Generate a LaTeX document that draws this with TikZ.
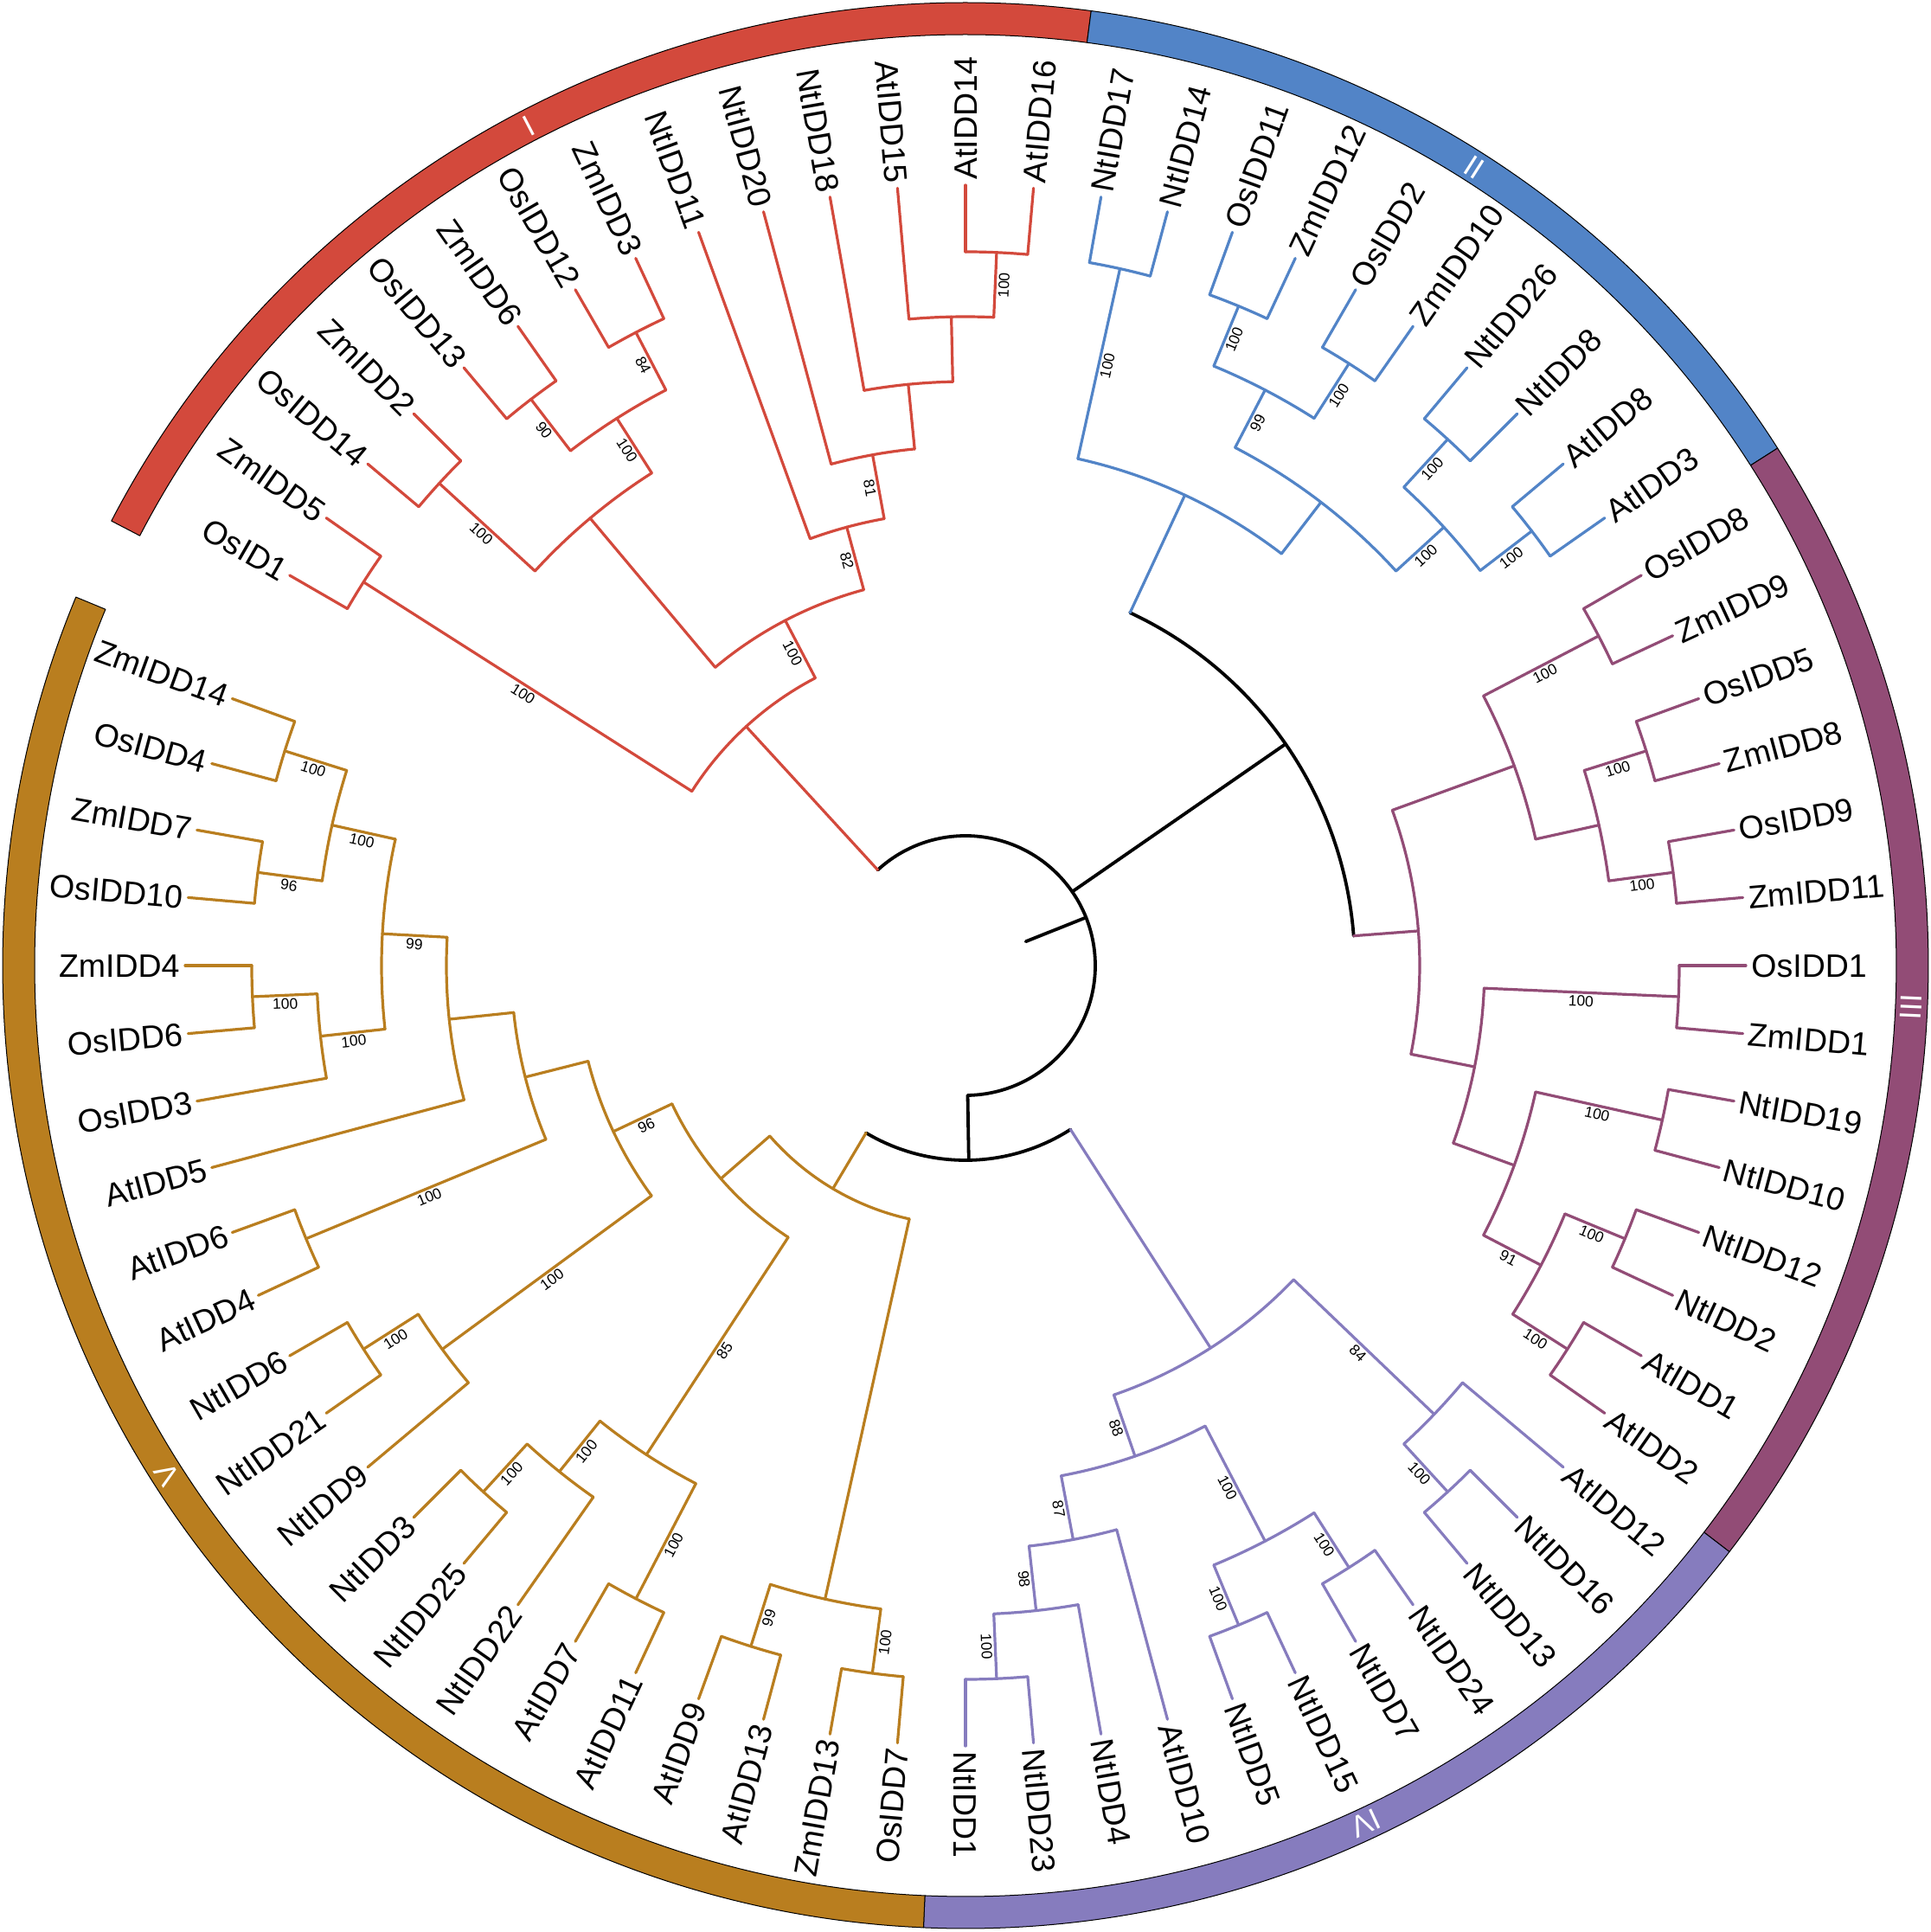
\documentclass[tikz,border=0pt]{standalone}
\usepackage{fontspec}
\setmainfont{Liberation Sans}
\definecolor{cIc}{RGB}{211,73,60}
\definecolor{cIIc}{RGB}{82,132,199}
\definecolor{cIIIc}{RGB}{146,76,118}
\definecolor{cIVc}{RGB}{134,124,190}
\definecolor{cVc}{RGB}{185,126,31}
\tikzset{
  cI/.style={draw=cIc, line width=1.6pt},
  cII/.style={draw=cIIc, line width=1.6pt},
  cIII/.style={draw=cIIIc, line width=1.6pt},
  cIV/.style={draw=cIVc, line width=1.6pt},
  cV/.style={draw=cVc, line width=1.6pt},
  blk/.style={draw=black, line width=1.9pt},
  leaflab/.style={font=\fontsize{18.75}{20}\selectfont, inner sep=0pt, text height=13.4pt, text depth=0pt},
  bslab/.style={font=\fontsize{8.7}{9}\selectfont, inner sep=1.5pt, text height=6.3pt, text depth=0pt},
  ringlab/.style={font=\fontsize{17.5}{18}\selectfont, text=white, inner sep=0pt, text height=12.5pt, text depth=0pt},
  ringseg/.style={draw=black, line width=0.5pt}
}
\newcounter{bsn}
\newcommand\tbs[4]{%
  \stepcounter{bsn}%
  \pgfmathsetmacro\tmpm{(#3+#4)/2}%
  \pgfmathsetmacro\tmpc{cos(#2)}%
  \ifdim\tmpc pt<-0.001pt \pgfmathsetmacro\tmpr{#2-180}\else\pgfmathsetmacro\tmpr{#2}\fi
  \node[bslab, rotate=\tmpr, anchor=north] (bs\arabic{bsn}) at (#2:\tmpm pt) {#1};}
\newcommand\tint[7]{%
  \draw[#1] (#3:#2pt) arc[start angle=#3, end angle=#4, radius=#2pt];
  \draw[#1] (#5:#6pt) -- (#5:#2pt);
  \def\tmparg{#7}\ifx\tmparg\empty\else\tbs{#7}{#5}{#6}{#2}\fi}
\newcommand\tleaf[4]{%
  \draw[#1] (#3:#4pt) -- (#3:451pt);
  \pgfmathsetmacro\tmpc{cos(#3)}%
  \ifdim\tmpc pt<-0.001pt
    \pgfmathsetmacro\tmpr{#3-180}%
    \node[leaflab, anchor=east, rotate=\tmpr] (#2) at (#3:454pt) {#2};
  \else
    \node[leaflab, anchor=west, rotate=#3] (#2) at (#3:454pt) {#2};
  \fi}
\newcommand\tring[5]{%
  \filldraw[ringseg, fill=#1] (#2:538pt) arc[start angle=#2, end angle=#3, radius=538pt]
    -- (#3:556.5pt) arc[start angle=#3, end angle=#2, radius=556.5pt] -- cycle;
  \pgfmathsetmacro\tmpa{(#2+#3)/2}%
  \pgfmathsetmacro\tmpr{\tmpa-90}%
  \node[ringlab, rotate=\tmpr] (ring#5) at (\tmpa:547.25pt) {#4};}
\begin{document}
\begin{tikzpicture}[line cap=round, line join=round]
\useasboundingbox (-558pt,-558.5pt) rectangle (558pt,558pt);
% ring
\tring{cIc}{82.5}{152.5}{I}{1}
\tring{cIIc}{32.5}{82.5}{II}{2}
\tring{cIIIc}{-37.5}{32.5}{III}{3}
\tring{cIVc}{-92.5}{-37.5}{IV}{4}
\tring{cVc}{-202.5}{-92.5}{V}{5}
% root
\draw[blk] (132.5390625:75pt) arc[start angle=132.5390625, end angle=-89.033203125, radius=75pt];
\draw[blk] (21.7529296875:37.5pt) -- (21.7529296875:75pt);
\tint{blk}{225}{65}{4.375}{34.6875}{75}{}
\tint{blk}{112.5}{-57.34375}{-120.72265625}{-89.033203125}{75}{}
% clade I
\tint{cI}{412.5}{90}{85}{87.5}{375}{100}
\tint{cI}{375}{95}{87.5}{91.25}{337.5}{}
\tint{cI}{337.5}{100}{91.25}{95.625}{300}{}
\tint{cI}{300}{105}{95.625}{100.3125}{262.5}{81}
\tint{cI}{262.5}{110}{100.3125}{105.15625}{225}{82}
\tint{cI}{412.5}{120}{115}{117.5}{375}{84}
\tint{cI}{412.5}{130}{125}{127.5}{375}{90}
\tint{cI}{375}{127.5}{117.5}{122.5}{337.5}{100}
\tint{cI}{412.5}{140}{135}{137.5}{337.5}{100}
\tint{cI}{337.5}{137.5}{122.5}{130}{225}{}
\tint{cI}{225}{130}{105.15625}{117.578125}{187.5}{100}
\tint{cI}{412.5}{150}{145}{147.5}{187.5}{100}
\tint{cI}{187.5}{147.5}{117.578125}{132.5390625}{75}{}
\tleaf{cI}{AtIDD14}{90}{412.5}
\tleaf{cI}{AtIDD16}{85}{412.5}
\tleaf{cI}{AtIDD15}{95}{375}
\tleaf{cI}{NtIDD18}{100}{337.5}
\tleaf{cI}{NtIDD20}{105}{300}
\tleaf{cI}{NtIDD11}{110}{262.5}
\tleaf{cI}{ZmIDD3}{115}{412.5}
\tleaf{cI}{OsIDD12}{120}{412.5}
\tleaf{cI}{ZmIDD6}{125}{412.5}
\tleaf{cI}{OsIDD13}{130}{412.5}
\tleaf{cI}{ZmIDD2}{135}{412.5}
\tleaf{cI}{OsIDD14}{140}{412.5}
\tleaf{cI}{ZmIDD5}{145}{412.5}
\tleaf{cI}{OsID1}{150}{412.5}
% clade II
\tint{cII}{412.5}{80}{75}{77.5}{300}{100}
\tint{cII}{412.5}{70}{65}{67.5}{375}{100}
\tint{cII}{412.5}{60}{55}{57.5}{375}{100}
\tint{cII}{375}{67.5}{57.5}{62.5}{337.5}{99}
\tint{cII}{412.5}{50}{45}{47.5}{375}{100}
\tint{cII}{412.5}{40}{35}{37.5}{375}{100}
\tint{cII}{375}{47.5}{37.5}{42.5}{337.5}{100}
\tint{cII}{337.5}{62.5}{42.5}{52.5}{300}{}
\tint{cII}{300}{77.5}{52.5}{65}{225}{}
\tleaf{cII}{NtIDD17}{80}{412.5}
\tleaf{cII}{NtIDD14}{75}{412.5}
\tleaf{cII}{OsIDD11}{70}{412.5}
\tleaf{cII}{ZmIDD12}{65}{412.5}
\tleaf{cII}{OsIDD2}{60}{412.5}
\tleaf{cII}{ZmIDD10}{55}{412.5}
\tleaf{cII}{NtIDD26}{50}{412.5}
\tleaf{cII}{NtIDD8}{45}{412.5}
\tleaf{cII}{AtIDD8}{40}{412.5}
\tleaf{cII}{AtIDD3}{35}{412.5}
% clade III
\tint{cIII}{412.5}{30}{25}{27.5}{337.5}{100}
\tint{cIII}{412.5}{20}{15}{17.5}{375}{100}
\tint{cIII}{412.5}{10}{5}{7.5}{375}{100}
\tint{cIII}{375}{17.5}{7.5}{12.5}{337.5}{}
\tint{cIII}{337.5}{27.5}{12.5}{20}{262.5}{}
\tint{cIII}{412.5}{0}{-5}{-2.5}{300}{100}
\tint{cIII}{412.5}{-10}{-15}{-12.5}{337.5}{100}
\tint{cIII}{412.5}{-20}{-25}{-22.5}{375}{100}
\tint{cIII}{412.5}{-30}{-35}{-32.5}{375}{100}
\tint{cIII}{375}{-22.5}{-32.5}{-27.5}{337.5}{91}
\tint{cIII}{337.5}{-12.5}{-27.5}{-20}{300}{}
\tint{cIII}{300}{-2.5}{-20}{-11.25}{262.5}{}
\tint{cIII}{262.5}{20}{-11.25}{4.375}{225}{}
\tleaf{cIII}{OsIDD8}{30}{412.5}
\tleaf{cIII}{ZmIDD9}{25}{412.5}
\tleaf{cIII}{OsIDD5}{20}{412.5}
\tleaf{cIII}{ZmIDD8}{15}{412.5}
\tleaf{cIII}{OsIDD9}{10}{412.5}
\tleaf{cIII}{ZmIDD11}{5}{412.5}
\tleaf{cIII}{OsIDD1}{0}{412.5}
\tleaf{cIII}{ZmIDD1}{-5}{412.5}
\tleaf{cIII}{NtIDD19}{-10}{412.5}
\tleaf{cIII}{NtIDD10}{-15}{412.5}
\tleaf{cIII}{NtIDD12}{-20}{412.5}
\tleaf{cIII}{NtIDD2}{-25}{412.5}
\tleaf{cIII}{AtIDD1}{-30}{412.5}
\tleaf{cIII}{AtIDD2}{-35}{412.5}
% clade IV
\tint{cIV}{412.5}{-45}{-50}{-47.5}{375}{100}
\tint{cIV}{375}{-40}{-47.5}{-43.75}{262.5}{84}
\tint{cIV}{412.5}{-55}{-60}{-57.5}{375}{100}
\tint{cIV}{412.5}{-65}{-70}{-67.5}{375}{100}
\tint{cIV}{375}{-57.5}{-67.5}{-62.5}{300}{100}
\tint{cIV}{412.5}{-85}{-90}{-87.5}{375}{100}
\tint{cIV}{375}{-80}{-87.5}{-83.75}{337.5}{98}
\tint{cIV}{337.5}{-75}{-83.75}{-79.375}{300}{87}
\tint{cIV}{300}{-62.5}{-79.375}{-70.9375}{262.5}{88}
\tint{cIV}{262.5}{-43.75}{-70.9375}{-57.34375}{112.5}{}
\tleaf{cIV}{AtIDD12}{-40}{375}
\tleaf{cIV}{NtIDD16}{-45}{412.5}
\tleaf{cIV}{NtIDD13}{-50}{412.5}
\tleaf{cIV}{NtIDD24}{-55}{412.5}
\tleaf{cIV}{NtIDD7}{-60}{412.5}
\tleaf{cIV}{NtIDD15}{-65}{412.5}
\tleaf{cIV}{NtIDD5}{-70}{412.5}
\tleaf{cIV}{AtIDD10}{-75}{337.5}
\tleaf{cIV}{NtIDD4}{-80}{375}
\tleaf{cIV}{NtIDD23}{-85}{412.5}
\tleaf{cIV}{NtIDD1}{-90}{412.5}
% clade V
\tint{cV}{412.5}{-95}{-100}{-97.5}{375}{100}
\tint{cV}{412.5}{-105}{-110}{-107.5}{375}{99}
\tint{cV}{375}{-97.5}{-107.5}{-102.5}{150}{}
\tint{cV}{412.5}{-115}{-120}{-117.5}{337.5}{100}
\tint{cV}{412.5}{-130}{-135}{-132.5}{375}{100}
\tint{cV}{375}{-125}{-132.5}{-128.75}{337.5}{100}
\tint{cV}{337.5}{-117.5}{-128.75}{-123.125}{187.5}{85}
\tint{cV}{412.5}{-145}{-150}{-147.5}{375}{100}
\tint{cV}{375}{-140}{-147.5}{-143.75}{225}{100}
\tint{cV}{412.5}{-155}{-160}{-157.5}{262.5}{100}
\tint{cV}{412.5}{-175}{-180}{-177.5}{375}{100}
\tint{cV}{375}{-170}{-177.5}{-173.75}{337.5}{100}
\tint{cV}{412.5}{-185}{-190}{-187.5}{375}{96}
\tint{cV}{412.5}{-195}{-200}{-197.5}{375}{100}
\tint{cV}{375}{-187.5}{-197.5}{-192.5}{337.5}{100}
\tint{cV}{337.5}{-173.75}{-192.5}{-183.125}{300}{99}
\tint{cV}{300}{-165}{-183.125}{-174.0625}{262.5}{}
\tint{cV}{262.5}{-157.5}{-174.0625}{-165.78125}{225}{}
\tint{cV}{225}{-143.75}{-165.78125}{-154.765625}{187.5}{96}
\tint{cV}{187.5}{-123.125}{-154.765625}{-138.9453125}{150}{}
\tint{cV}{150}{-102.5}{-138.9453125}{-120.72265625}{112.5}{}
\tleaf{cV}{OsIDD7}{-95}{412.5}
\tleaf{cV}{ZmIDD13}{-100}{412.5}
\tleaf{cV}{AtIDD13}{-105}{412.5}
\tleaf{cV}{AtIDD9}{-110}{412.5}
\tleaf{cV}{AtIDD11}{-115}{412.5}
\tleaf{cV}{AtIDD7}{-120}{412.5}
\tleaf{cV}{NtIDD22}{-125}{375}
\tleaf{cV}{NtIDD25}{-130}{412.5}
\tleaf{cV}{NtIDD3}{-135}{412.5}
\tleaf{cV}{NtIDD9}{-140}{375}
\tleaf{cV}{NtIDD21}{-145}{412.5}
\tleaf{cV}{NtIDD6}{-150}{412.5}
\tleaf{cV}{AtIDD4}{-155}{412.5}
\tleaf{cV}{AtIDD6}{-160}{412.5}
\tleaf{cV}{AtIDD5}{-165}{300}
\tleaf{cV}{OsIDD3}{-170}{375}
\tleaf{cV}{OsIDD6}{-175}{412.5}
\tleaf{cV}{ZmIDD4}{-180}{412.5}
\tleaf{cV}{OsIDD10}{-185}{412.5}
\tleaf{cV}{ZmIDD7}{-190}{412.5}
\tleaf{cV}{OsIDD4}{-195}{412.5}
\tleaf{cV}{ZmIDD14}{-200}{412.5}
\end{tikzpicture}
\end{document}
